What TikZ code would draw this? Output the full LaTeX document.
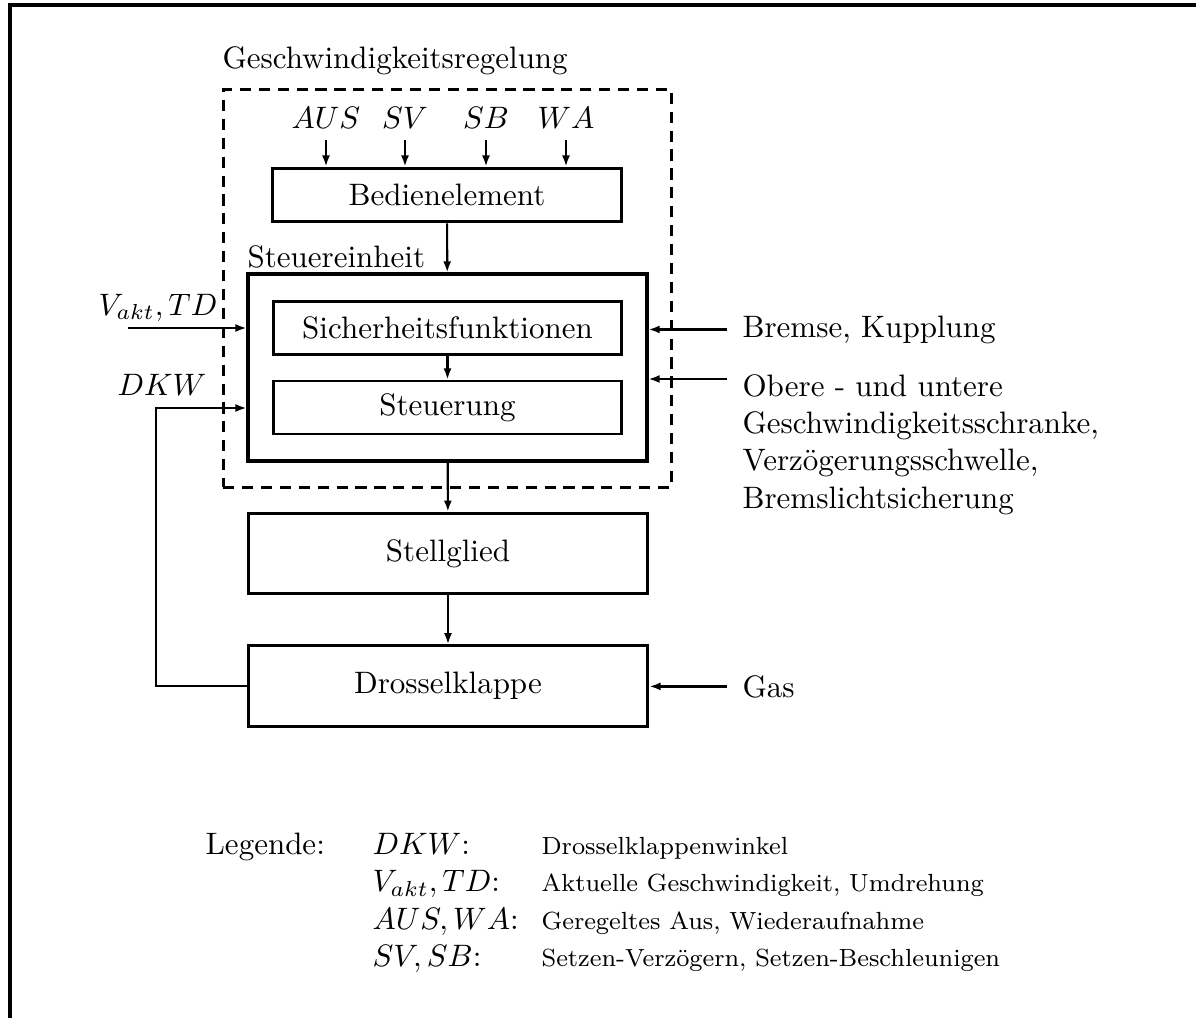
\documentclass[tikz,border=0pt]{standalone}
\usepackage{tikz}
\usetikzlibrary{arrows.meta}

\begin{document}
\begin{tikzpicture}[x=0.3226pt,y=-0.3226pt]
  \useasboundingbox (0,0) rectangle (1196,1018);

  \tikzstyle{Block}=[draw,line width=0.95pt,inner sep=0pt,minimum width=112.5pt,minimum height=17.4pt]
  \tikzstyle{BigBlock}=[draw,line width=0.95pt,inner sep=0pt,minimum width=129pt,minimum height=26pt]
  \tikzstyle{Signal}=[line width=0.7pt,-{Latex[length=3.6pt,width=2.6pt]}]
  \tikzstyle{Label}=[inner sep=0pt,anchor=base west]
  \tikzstyle{Input}=[inner sep=0pt,anchor=base]
  \tikzstyle{Small}=[Label,font=\fontsize{8}{9.6}\selectfont]

  % frame
  \draw[line width=1pt] (10,1018) -- (10,5) -- (1196,5);

  % Geschwindigkeitsregelung
  \node[draw,line width=0.95pt,dash pattern=on 3.6pt off 2.5pt,
        minimum width=144.8pt,minimum height=128.1pt] (regel) at (447.5,288.5) {};
  \node[Label] (regeltitel) at (222,69) {Geschwindigkeitsregelung};

  \node[Block] (bed) at (447,195) {Bedienelement};
  \node[Input] (aus) at (326,129) {$AUS$};
  \node[Input] (sv) at (405,129) {$SV$};
  \node[Input] (sb) at (486,129) {$SB$};
  \node[Input] (wa) at (566,129) {$WA$};

  \draw[Signal] ([yshift=-3.5pt]aus.base) -- (aus.base |- bed.north);
  \draw[Signal] ([yshift=-3.5pt]sv.base) -- (sv.base |- bed.north);
  \draw[Signal] ([yshift=-3.5pt]sb.base) -- (sb.base |- bed.north);
  \draw[Signal] ([yshift=-3.5pt]wa.base) -- (wa.base |- bed.north);

  % Steuereinheit
  \node[draw,line width=1pt,inner sep=0pt,minimum width=128.7pt,
        minimum height=60.3pt] (steu) at (447.5,367.5) {};
  \node[Label] (steutitel) at (247,267) {Steuereinheit};
  \node[Block] (sich) at (447.5,328) {Sicherheitsfunktionen};
  \node[Block,minimum height=17.1pt] (steuer) at (447.5,407.5) {Steuerung};

  \draw[Signal] (bed) -- (steu);
  \draw[Signal] (sich) -- (steuer);

  % Stellglied und Drosselklappe
  \node[BigBlock] (stell) at (448,553.5) {Stellglied};
  \node[BigBlock] (dros) at (448,686) {Drosselklappe};

  \draw[Signal] (steu) -- (stell);
  \draw[Signal] (stell) -- (dros);

  % Eingaenge links
  \node[Label] (vakt) at (98,315) {$V_{akt}, TD$};
  \coordinate (vaktin) at (128,328);
  \draw[Signal] (vaktin) -- (vaktin -| steu.west);

  \node[Label] (dkw) at (117,395) {$DKW$};
  \coordinate (dkwknick) at (156,408);
  \draw[Signal] (dros.west) -| (dkwknick) -- (dkwknick -| steu.west);

  % Eingaenge rechts
  \node[Label] (brems) at (742,337) {Bremse, Kupplung};
  \draw[Signal] ([xshift=-4.8pt]brems.west) -- (brems.west -| steu.east);

  \node[inner sep=0pt,anchor=north west,align=left] (schranke) at (742,374)
    {Obere - und untere\\Geschwindigkeitsschranke,\\Verz\"ogerungsschwelle,\\Bremslichtsicherung};
  \coordinate (schrankein) at (727,379);
  \draw[Signal] (schrankein) -- (schrankein -| steu.east);

  \node[Label] (gas) at (742,697) {Gas};
  \draw[Signal] ([xshift=-4.8pt]gas.west) -- (gas.west -| dros.east);

  % Legende
  \node[Label] (legende) at (205,854) {Legende:};
  \node[Label] (ldkw) at (372,854) {$DKW$:};
  \node[Label] (lvakt) at (372,891.5) {$V_{akt}, TD$:};
  \node[Label] (lauswa) at (372,929) {$AUS, WA$:};
  \node[Label] (lsvsb) at (372,966.5) {$SV, SB$:};
  \node[Small] (tdkw) at (541,854) {Drosselklappenwinkel};
  \node[Small] (tvakt) at (541,891.5) {Aktuelle Geschwindigkeit, Umdrehung};
  \node[Small] (tauswa) at (541,929) {Geregeltes Aus, Wiederaufnahme};
  \node[Small] (tsvsb) at (541,966.5) {Setzen-Verz\"ogern, Setzen-Beschleunigen};

\end{tikzpicture}
\end{document}
